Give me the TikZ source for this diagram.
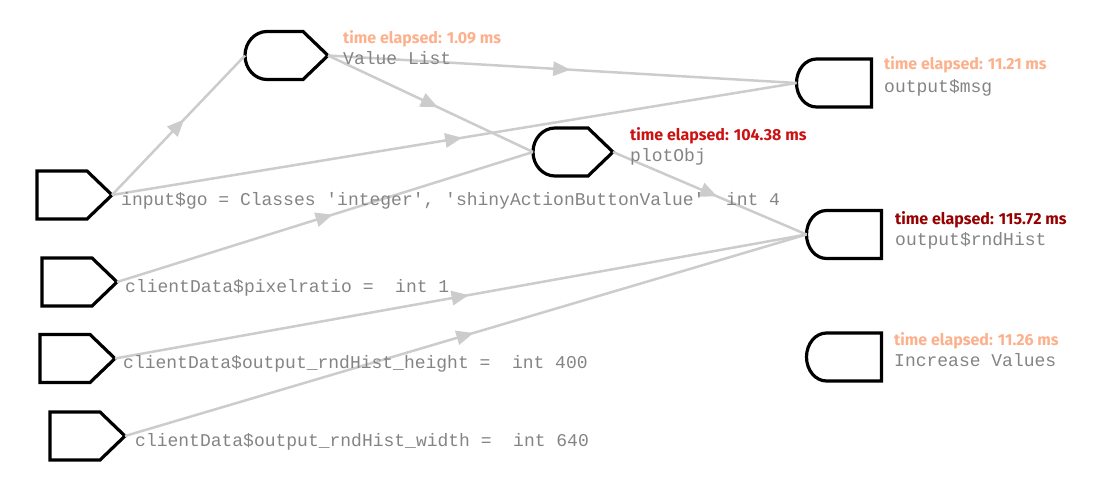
\documentclass[tikz,border=0pt]{standalone}
\usepackage{fontspec}
\usetikzlibrary{arrows.meta,decorations.markings}
\newfontfamily\tmfont{Fira Sans}
\newfontfamily\monofont{Liberation Mono}[Ligatures=TeXOff]
\definecolor{link_gray}{RGB}{204, 204, 204}
\definecolor{name_gray}{RGB}{132, 132, 132}
\definecolor{time_low}{RGB}{252, 176, 140}
\definecolor{time_mid}{RGB}{204, 17, 17}
\definecolor{time_high}{RGB}{150, 0, 0}
\tikzstyle{shp}=[draw=black,line width=3.2pt]
\tikzstyle{inp}=[inner sep=0pt,outer sep=0pt,minimum width=75pt,minimum height=48pt,
  append after command={\pgfextra{\draw [style=shp] (\tikzlastnode.north west)
    -- ([xshift=-25pt]\tikzlastnode.north east) -- (\tikzlastnode.east)
    -- ([xshift=-25pt]\tikzlastnode.south east) -- (\tikzlastnode.south west) -- cycle;}}]
\tikzstyle{rct}=[inner sep=0pt,outer sep=0pt,minimum width=83pt,minimum height=48pt,
  append after command={\pgfextra{\draw [style=shp] ([xshift=22pt]\tikzlastnode.north west)
    -- ([xshift=-25pt]\tikzlastnode.north east) -- (\tikzlastnode.east)
    -- ([xshift=-25pt]\tikzlastnode.south east) -- ([xshift=22pt]\tikzlastnode.south west)
    arc [start angle=270, end angle=90, x radius=22pt, y radius=24pt] -- cycle;}}]
\tikzstyle{outp}=[inner sep=0pt,outer sep=0pt,minimum width=75pt,minimum height=48pt,
  append after command={\pgfextra{\draw [style=shp] ([xshift=20pt]\tikzlastnode.north west)
    -- (\tikzlastnode.north east) -- (\tikzlastnode.south east)
    -- ([xshift=20pt]\tikzlastnode.south west)
    arc [start angle=270, end angle=90, x radius=20pt, y radius=24pt] -- cycle;}}]
\tikzstyle{link}=[draw=link_gray,line width=2.5pt,postaction={decorate},
  decoration={markings,mark=at position 0.5 with {\pgftransformxshift{8pt}
    \arrow{Triangle[length=17pt,width=15pt,line width=0pt,color=link_gray]}}}]
\tikzstyle{tm}=[anchor=base west,inner sep=0pt,font=\tmfont\bfseries\fontsize{16}{18}\selectfont]
\tikzstyle{nm}=[anchor=base west,inner sep=0pt,text=name_gray,font=\monofont\fontsize{18}{20}\selectfont]

\begin{document}
\begin{tikzpicture}[x=1pt, y=-1pt]
  \useasboundingbox (0, 0) rectangle (1107, 497);
  \node [style=inp] (0) at (74.5, 195) {};
  \node [style=inp] (1) at (79.5, 282) {};
  \node [style=inp] (2) at (77.5, 358.5) {};
  \node [style=inp] (3) at (87.5, 436) {};
  \node [style=rct] (4) at (286.5, 55.5) {};
  \node [style=rct, minimum width=80pt] (5) at (573, 152) {};
  \node [style=outp] (6) at (834, 83) {};
  \node [style=outp] (7) at (844, 234.5) {};
  \node [style=outp] (8) at (844, 357) {};
  \draw [style=link] (0.east) to (4.west);
  \draw [style=link] (0.east) to (6.west);
  \draw [style=link] (4.east) to (6.west);
  \draw [style=link] (4.east) to (5.west);
  \draw [style=link] (5.east) to (7.west);
  \draw [style=link] (1.east) to (5.west);
  \draw [style=link] (2.east) to (7.west);
  \draw [style=link] (3.east) to (7.west);
  \node [style=tm, text=time_low] (9) at (343, 44) {time elapsed: 1.09 ms};
  \node [style=nm] (10) at (343, 65) {Value List};
  \node [style=tm, text=time_mid] (11) at (630, 141) {time elapsed: 104.38 ms};
  \node [style=nm] (12) at (630, 161) {plotObj};
  \node [style=tm, text=time_low] (13) at (884, 70) {time elapsed: 11.21 ms};
  \node [style=nm] (14) at (884, 93) {output\$msg};
  \node [style=tm, text=time_high] (15) at (895, 224) {time elapsed: 115.72 ms};
  \node [style=nm] (16) at (895, 245) {output\$rndHist};
  \node [style=tm, text=time_low] (17) at (894, 345) {time elapsed: 11.26 ms};
  \node [style=nm] (18) at (894, 366) {Increase Values};
  \node [style=nm] (19) at (121, 205) {input\$go = Classes 'integer', 'shinyActionButtonValue'\ \ int 4};
  \node [style=nm] (20) at (125, 292) {clientData\$pixelratio = \ int 1};
  \node [style=nm] (21) at (123, 368) {clientData\$output\_rndHist\_height = \ int 400};
  \node [style=nm] (22) at (135, 446) {clientData\$output\_rndHist\_width = \ int 640};
\end{tikzpicture}
\end{document}
